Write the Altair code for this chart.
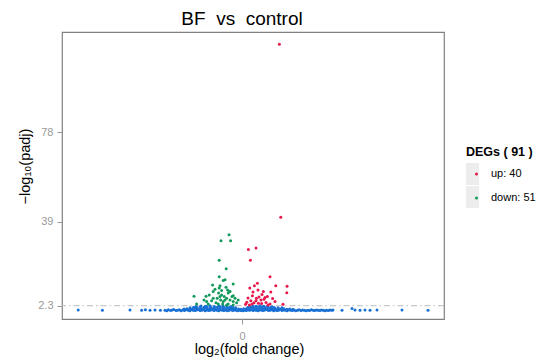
import altair as alt
import pandas as pd

# DEG points (log2 fold change, -log10 padj)
up_x = [1.87, 1.94, 0.32, 0.70, 0.42, 1.40, 1.69, 2.25, 2.24, 0.77,
        0.62, 0.39, 1.07, 1.44, 1.27, 0.52, 0.72, 0.95, 1.10, 1.65,
        0.24, 0.44, 0.60, 0.70, 0.82, 0.50, 0.37, 0.98, 1.20, 1.40,
        0.85, 1.00, 0.55, 0.80, 1.15, 1.53, 0.18, 1.30, 2.05, 0.30]
up_y = [116.4, 40.9, 26.8, 27.5, 22.1, 15.0, 11.0, 10.8, 8.0, 12.1,
        11.0, 10.0, 8.5, 8.3, 6.3, 6.6, 5.6, 4.8, 5.1, 4.1,
        3.8, 4.5, 3.6, 4.5, 3.4, 3.1, 2.6, 3.3, 3.7, 3.1,
        6.1, 7.2, 8.3, 9.2, 5.9, 5.5, 2.9, 2.6, 2.9, 5.7]

down_x = [-0.65, -1.05, -0.57, -1.14, -0.79, -1.14, -0.94, -0.85, -1.47, -0.44,
          -1.10, -0.72, -0.62, -1.44, -2.40, -1.80, -1.17, -1.02, -0.89, -0.77,
          -0.60, -0.44, -0.27, -1.07, -0.94, -1.24, -1.30, -1.77, -1.69, -0.69,
          -0.97, -0.50, -0.69, -1.35, -0.80, -2.27, -1.14, -0.44, -0.19, -1.44,
          -1.52, -0.85, -1.19, -0.77, -0.44, -1.10, -0.60, -1.02, -1.64, -1.90,
          -0.35]
down_y = [33.3, 30.7, 30.7, 22.2, 18.4, 15.0, 13.3, 13.6, 11.3, 11.8,
          11.0, 9.2, 8.5, 8.5, 6.4, 6.4, 7.8, 7.0, 6.3, 5.6,
          4.8, 4.1, 3.6, 4.8, 4.1, 5.6, 3.6, 4.1, 3.1, 3.1,
          3.1, 6.3, 7.8, 9.5, 10.4, 3.1, 10.0, 6.6, 4.8, 5.6,
          4.5, 4.8, 3.1, 2.6, 2.6, 6.3, 8.5, 8.9, 7.0, 4.8,
          5.6]

ns_x = [
    # sparse left tail
    -8.19, -6.98, -5.60, -5.02, -4.83, -4.60, -4.35, -4.08,
    # bottom row
    -3.85, -3.76, -3.68, -3.57, -3.49, -3.41, -3.30, -3.22, -3.13, -3.05,
    -2.96, -2.87, -2.79, -2.70, -2.61, -2.52, -2.44, -2.35, -2.27, -2.18,
    -2.10, -2.01, -1.93, -1.84, -1.75, -1.67, -1.58, -1.50, -1.41, -1.33,
    -1.24, -1.16, -1.07, -0.98, -0.90, -0.81, -0.73, -0.64, -0.56, -0.47,
    -0.39, -0.30, -0.22, -0.13, -0.05, 0.04, 0.12, 0.21, 0.29, 0.38,
    0.46, 0.55, 0.64, 0.72, 0.81, 0.89, 0.98, 1.06, 1.15, 1.23,
    1.32, 1.41, 1.49, 1.58, 1.66, 1.75, 1.83, 1.92, 2.00, 2.09,
    2.18, 2.26, 2.35, 2.43, 2.52, 2.60, 2.69, 2.78, 2.86, 2.95,
    3.03, 3.12, 3.20, 3.29, 3.38, 3.46, 3.55, 3.63, 3.72, 3.80,
    3.89, 3.97, 4.06, 4.15, 4.23, 4.32, 4.40, 4.49,
    # sparse right tail
    4.55, 5.00, 5.50, 5.65, 5.90, 6.15, 6.40, 6.75, 8.00, 9.30,
    # second row
    -2.90, -2.75, -2.60, -2.48, -2.33, -2.20, -2.05, -1.92, -1.78, -1.64,
    -1.50, -1.37, -1.22, -1.10, -0.95, -0.82, -0.68, -0.55, -0.42, -0.30,
    -0.17, -0.05, 0.08, 0.20, 0.33, 0.46, 0.60, 0.73, 0.86, 1.00,
    1.13, 1.27, 1.40, 1.54, 1.68, 1.82, 1.96, 2.10, 2.25, 2.40, 2.55,
    # third row
    -2.60, -2.42, -2.25, -2.08, -1.90, -1.74, -1.57, -1.40, -1.24, -1.08,
    -0.92, -0.76, -0.60, -0.45, -0.32, 0.28, 0.42, 0.56, 0.70, 0.85,
    1.00, 1.15, 1.30, 1.46, 1.62, 1.80, 2.00,
    # top row
    -2.30, -2.05, -1.82, -1.60, -1.38, -1.15, -0.95, -0.75, -0.55, 0.38,
    0.55, 0.72, 0.90, 1.08, 1.28, 1.50,
]
ns_y = [
    0.4, 0.3, 0.4, 0.3, 0.5, 0.3, 0.4, 0.3,
    0.3, 0.1, 0.5, 0.2, 0.4, 0.6, 0.2, 0.3, 0.5, 0.1,
    0.4, 0.2, 0.6, 0.3, 0.1, 0.5, 0.3, 0.2, 0.4, 0.6,
    0.2, 0.3, 0.5, 0.1, 0.4, 0.2, 0.3, 0.6, 0.2, 0.4,
    0.3, 0.1, 0.5, 0.3, 0.2, 0.4, 0.1, 0.3, 0.5, 0.2,
    0.4, 0.3, 0.1, 0.3, 0.2, 0.1, 0.3, 0.2, 0.4, 0.3,
    0.5, 0.2, 0.4, 0.3, 0.1, 0.5, 0.3, 0.2, 0.4, 0.6,
    0.2, 0.3, 0.5, 0.1, 0.4, 0.2, 0.3, 0.6, 0.2, 0.4,
    0.3, 0.1, 0.5, 0.3, 0.2, 0.4, 0.1, 0.3, 0.5, 0.2,
    0.4, 0.3, 0.1, 0.3, 0.2, 0.5, 0.3, 0.2, 0.4, 0.3,
    0.2, 0.4, 0.3, 0.1, 0.3, 0.2, 0.4, 0.3,
    0.4, 0.3, 1.1, 0.4, 0.3, 0.4, 0.3, 0.4, 0.4, 0.3,
    0.9, 1.0, 1.1, 0.8, 1.2, 1.0, 0.9, 1.1, 1.2, 0.9,
    1.0, 1.2, 0.8, 1.1, 1.0, 0.9, 1.2, 1.0, 0.8, 1.1,
    0.9, 0.8, 1.0, 0.9, 1.1, 1.2, 1.0, 0.9, 1.1, 1.2,
    1.0, 0.9, 1.1, 1.0, 0.8, 1.1, 0.9, 1.0, 0.8, 0.9, 0.8,
    1.4, 1.6, 1.5, 1.7, 1.6, 1.8, 1.5, 1.7, 1.6, 1.8,
    1.5, 1.7, 1.6, 1.5, 1.4, 1.5, 1.7, 1.6, 1.8, 1.6,
    1.7, 1.5, 1.8, 1.6, 1.5, 1.4, 1.4,
    2.0, 2.2, 2.1, 2.3, 2.0, 2.2, 2.1, 2.2, 2.0, 2.0,
    2.2, 2.1, 2.3, 2.1, 2.0, 1.9,
]

groups = ["up: 40", "down: 51", "not significant"]
colors = ["#E8174B", "#139A5B", "#1870D4"]
key_grey = "#EDEDED"
ticks_y = [2.3, 39, 78]
ticks_x = [0]
threshold = [2.3]

rows = []
for x, y in zip(ns_x, ns_y):
    rows.append({"fc": x, "p": y, "g": groups[2], "o": 0})
for x, y in zip(down_x, down_y):
    rows.append({"fc": x, "p": y, "g": groups[1], "o": 1})
for x, y in zip(up_x, up_y):
    rows.append({"fc": x, "p": y, "g": groups[0], "o": 2})
df = pd.DataFrame(rows)
df["key"] = df["g"]

FONT = "Liberation Sans"

xscale = alt.Scale(domain=[-9, 10.1], nice=False, zero=False)
yscale = alt.Scale(domain=[-3.5, 121.8], nice=False, zero=False)

rule = alt.Chart(pd.DataFrame({"t": threshold})).mark_rule(
    color="#BBBBBB", strokeWidth=1, strokeDash=[6, 3, 1.5, 3]
).encode(y=alt.Y("t:Q", scale=yscale))

LX, LY = 404, 114

points = alt.Chart(df).mark_circle(size=9, opacity=1, strokeWidth=0).encode(
    x=alt.X("fc:Q", scale=xscale,
            axis=alt.Axis(values=ticks_x, title="log₂(fold change)",
                          titleX=187, titleY=30, titleBaseline="middle",
                          titleAlign="center")),
    y=alt.Y("p:Q", scale=yscale,
            axis=alt.Axis(values=ticks_y, format="~g", title="−log₁₀(padj)",
                          titleX=-37, titleY=134, titleAngle=270,
                          titleBaseline="middle", titleAlign="center")),
    color=alt.Color("g:N", scale=alt.Scale(domain=groups, range=colors),
                    legend=alt.Legend(values=groups[:2], title="DEGs ( 91 )",
                                      orient="none", legendX=LX, legendY=LY,
                                      symbolType="circle", symbolSize=9,
                                      rowPadding=12, symbolOffset=5,
                                      zindex=2)),
    stroke=alt.Stroke("key:N",
                      scale=alt.Scale(domain=groups[::-1], range=[key_grey] * 3),
                      legend=alt.Legend(values=groups[:2], title=None,
                                        labelExpr="''",
                                        orient="none", legendX=LX - 4.5,
                                        legendY=LY + 17,
                                        symbolType="M-0.6,-1H0.6V1H-0.6Z",
                                        symbolSize=484, symbolFillColor=key_grey,
                                        symbolStrokeWidth=0, rowPadding=1,
                                        symbolOffset=0, zindex=1)),
    order=alt.Order("o:Q"),
)

chart = alt.layer(rule, points).properties(
    width=382, height=287,
    title=alt.TitleParams("BF\u00a0\u00a0vs\u00a0\u00a0control", fontSize=19,
                          font=FONT, fontWeight="normal", color="black",
                          anchor="middle", dx=-11, offset=3),
    autosize=alt.AutoSizeParams(type="none"),
    padding={"left": 54, "top": 24, "right": 92, "bottom": 38},
).configure_view(
    stroke="#808080", strokeWidth=1.2
).configure_axis(
    grid=False, domain=False, tickColor="#9a9a9a", tickSize=5,
    labelColor="#9a9a9a", labelFont=FONT, labelFontSize=11,
    titleFont=FONT, titleFontSize=14.5, titleFontWeight="normal",
    titleColor="black",
).configure_axisX(labelPadding=6).configure_axisY(labelPadding=4).configure_legend(
    titleFont=FONT, titleFontSize=12.5, titleFontWeight="bold", titleColor="black",
    labelFont=FONT, labelFontSize=11, labelColor="black",
    symbolStrokeWidth=0, titlePadding=10, labelOffset=9, padding=0,
)

chart.save("out.html", embed_options={"renderer": "svg", "actions": False})
